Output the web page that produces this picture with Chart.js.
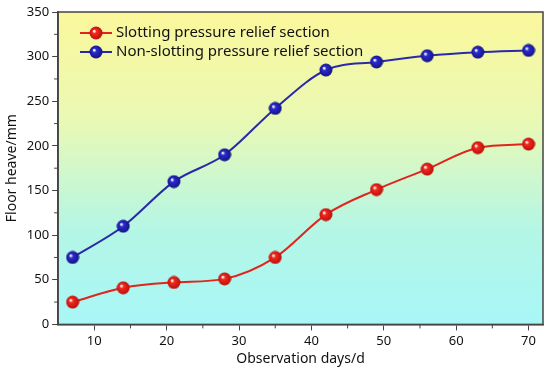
<!DOCTYPE html>
<html>
<head>
<meta charset="utf-8">
<script src="https://cdn.jsdelivr.net/npm/chart.js@4/dist/chart.umd.min.js"></script>
<style>
  html, body { margin: 0; padding: 0; background: #fff; }
  #wrap { width: 550px; height: 373px; }
</style>
</head>
<body>
<div id="wrap"><canvas id="floorChart"></canvas></div>
<script>
const days = [7, 14, 21, 28, 35, 42, 49, 56, 63, 70];
const slotting = [25, 41, 47, 51, 75, 123, 151, 174, 198, 202];
const nonSlotting = [75, 110, 160, 190, 242, 285, 294, 301, 305, 307];
const xTicks = [10, 20, 30, 40, 50, 60, 70];
const yTicks = [0, 50, 100, 150, 200, 250, 300, 350];

const seriesNames = ["Slotting pressure relief section", "Non-slotting pressure relief section"];
const FONT = "'Noto Sans', 'DejaVu Sans', sans-serif";

function ball(color, dark) {
    var c = document.createElement("canvas");
    c.width = 14; c.height = 14;
    var g = c.getContext("2d");
    var grad = g.createRadialGradient(5, 5, 0.5, 7, 7, 7);
    grad.addColorStop(0, "#ffffff");
    grad.addColorStop(0.25, color);
    grad.addColorStop(1, dark);
    g.fillStyle = grad;
    g.beginPath();
    g.arc(7, 7, 6.5, 0, Math.PI * 2);
    g.fill();
    return c;
}

const redBall = ball("#f02a20", "#b80c08");
const blueBall = ball("#2b2bd0", "#12127a");

function xy(vals) {
    return days.map(function (d, i) { return { x: d, y: vals[i] }; });
}

const bgPlugin = {
    id: "bg",
    beforeDraw(chart) {
        var a = chart.chartArea, ctx = chart.ctx;
        var grad = ctx.createLinearGradient(0, a.top, 0, a.bottom);
        grad.addColorStop(0, "#fbf79c");
        grad.addColorStop(0.35, "#e9f9b4");
        grad.addColorStop(0.7, "#b4f6e6");
        grad.addColorStop(1, "#a8f7f7");
        ctx.save();
        ctx.fillStyle = grad;
        ctx.fillRect(a.left, a.top, a.right - a.left, a.bottom - a.top);
        ctx.restore();
    },
    afterDraw(chart) {
        var a = chart.chartArea, ctx = chart.ctx;
        var xs = chart.scales.x, ys = chart.scales.y;
        ctx.save();
        ctx.strokeStyle = "#444";
        ctx.lineWidth = 1.5;
        ctx.strokeRect(a.left, a.top, a.right - a.left, a.bottom - a.top);
        // minor ticks
        ctx.lineWidth = 1;
        for (var v = 15; v <= 65; v += 10) {
            var px = xs.getPixelForValue(v);
            ctx.beginPath(); ctx.moveTo(px, a.bottom); ctx.lineTo(px, a.bottom + 4); ctx.stroke();
        }
        for (var w = 25; w <= 325; w += 50) {
            var py = ys.getPixelForValue(w);
            ctx.beginPath(); ctx.moveTo(a.left, py); ctx.lineTo(a.left - 4, py); ctx.stroke();
        }
        // legend inside plot
        var items = [
            { name: seriesNames[0], color: "#e0261c", img: redBall },
            { name: seriesNames[1], color: "#2a2aa8", img: blueBall }
        ];
        ctx.font = "15px " + FONT;
        ctx.textBaseline = "middle";
        items.forEach(function (it, i) {
            var y = 33 + i * 19;
            ctx.strokeStyle = it.color;
            ctx.lineWidth = 2;
            ctx.beginPath(); ctx.moveTo(80, y); ctx.lineTo(112, y); ctx.stroke();
            ctx.drawImage(it.img, 89, y - 7);
            ctx.fillStyle = "#111";
            ctx.fillText(it.name, 116, y);
        });
        ctx.restore();
    }
};

new Chart(document.getElementById("floorChart"), {
    type: "line",
    data: {
        datasets: [{
            label: seriesNames[0],
            data: xy(slotting),
            borderColor: "#e0261c",
            borderWidth: 2,
            pointStyle: redBall,
            cubicInterpolationMode: "monotone"
        }, {
            label: seriesNames[1],
            data: xy(nonSlotting),
            borderColor: "#2a2aa8",
            borderWidth: 2,
            pointStyle: blueBall,
            cubicInterpolationMode: "monotone"
        }]
    },
    plugins: [bgPlugin],
    options: {
        responsive: true,
        maintainAspectRatio: false,
        animation: false,
        layout: { padding: { top: 12, right: 7, bottom: 7 } },
        plugins: {
            legend: { display: false },
            tooltip: { enabled: false }
        },
        scales: {
            x: {
                type: "linear",
                min: 5,
                max: 72,
                afterBuildTicks: function (s) { s.ticks = xTicks.map(function (v) { return { value: v }; }); },
                grid: { drawOnChartArea: false, tickLength: 6, color: "#444" },
                border: { color: "#444", width: 1.5 },
                ticks: { color: "#111", font: { family: FONT, size: 13 }, padding: 3 },
                title: { display: true, text: "Observation days/d", color: "#111", font: { family: FONT, size: 14, lineHeight: 1 }, padding: { top: 0, bottom: 0 } }
            },
            y: {
                min: 0,
                max: 350,
                afterBuildTicks: function (s) { s.ticks = yTicks.map(function (v) { return { value: v }; }); },
                grid: { drawOnChartArea: false, tickLength: 6, color: "#444" },
                border: { color: "#444", width: 1.5 },
                ticks: { color: "#111", font: { family: FONT, size: 13 }, padding: 3 },
                title: { display: true, text: "Floor heave/mm", color: "#111", font: { family: FONT, size: 14 }, padding: { bottom: 3 } }
            }
        }
    }
});
</script>
</body>
</html>
